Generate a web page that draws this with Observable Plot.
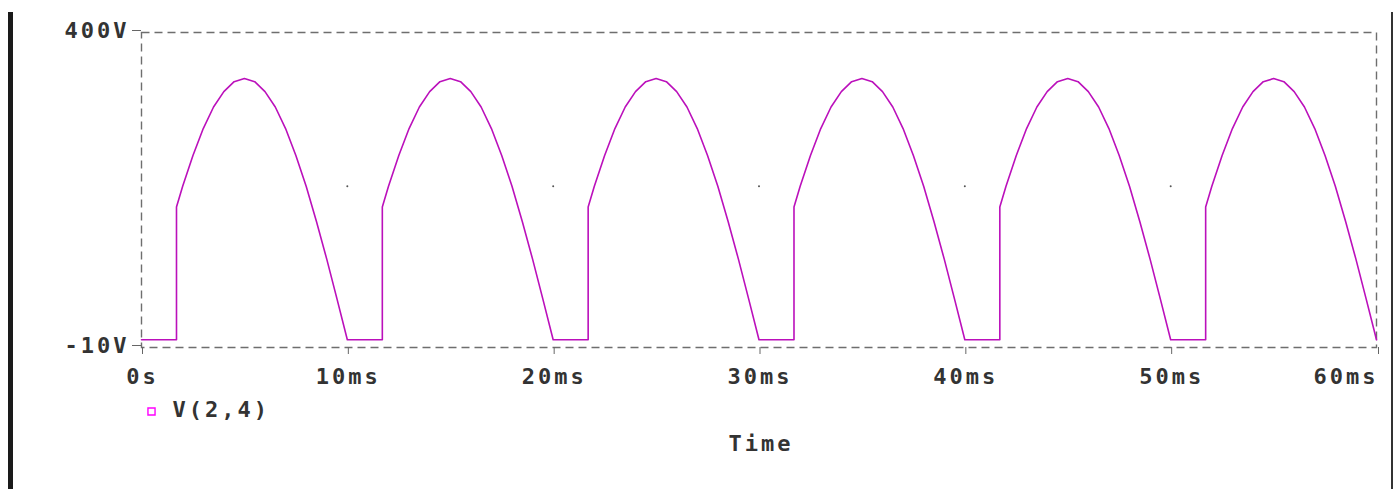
<!DOCTYPE html>
<html>
<head>
<meta charset="utf-8">
<script src="https://cdn.jsdelivr.net/npm/d3@7"></script>
<script src="https://cdn.jsdelivr.net/npm/@observablehq/plot@0.6"></script>
<style>
  html, body { margin: 0; padding: 0; background: #fff; }
  #wrap { position: relative; width: 1400px; height: 489px; overflow: hidden; background: #fff; }
  #barL { position: absolute; left: 8px; top: 12px; width: 5px; bottom: 0; background: #1a1a1a; }
  #barR { position: absolute; left: 1391px; top: 12px; width: 2px; bottom: 0; background: #333; }
  #chart { position: absolute; left: 0; top: 0; }
  #chart svg text { letter-spacing: 3px; }
</style>
</head>
<body>
<div id="wrap"><div id="chart"></div><div id="barL"></div><div id="barR"></div></div>
<script>
// Time axis (ms) and voltage axis (V)
const xTicks = [0, 10, 20, 30, 40, 50, 60];
const xTickLabels = ["0s", "10ms", "20ms", "30ms", "40ms", "50ms", "60ms"];
const yTicks = [-10, 400];
const yTickLabels = ["-10V", "400V"];

// start time of each half-cycle pulse (ms)
const cycleStarts = [0, 10, 20, 30, 40, 50];
// one pulse, time offset within the half-cycle (ms) and voltage (V)
const pulseTimes = [0, 1.7, 1.7, 2.0, 2.5, 3.0, 3.5, 4.0, 4.5, 5.0, 5.5, 6.0, 6.5, 7.0, 7.5, 8.0, 8.5, 9.0, 9.5, 10.0];
const pulseVolts = [0, 0, 173, 200, 240, 275, 303, 323, 336, 340, 336, 323, 303, 275, 240, 200, 154, 105, 53, 0];

// grid dots
const gridDotTimes = [10, 20, 30, 40, 50];
const gridDotVolt = 200;

const seriesName = "V(2,4)";
const xLabel = "Time";

const data = [];
for (const s of cycleStarts) {
  pulseTimes.forEach((t, i) => data.push({t: s + t, v: pulseVolts[i]}));
}
const dots = gridDotTimes.map(t => ({t, v: gridDotVolt}));

const font = "'DejaVu Sans Mono', monospace";
const fmtX = d => xTickLabels[xTicks.indexOf(d)];
const lastTick = xTicks[xTicks.length - 1];

const chart = Plot.plot({
  width: 1400,
  height: 489,
  marginLeft: 141,
  marginRight: 24,
  marginTop: 32,
  marginBottom: 142,
  style: {fontFamily: font, fontSize: "22px", fontWeight: "bold", color: "#333", background: "#fff"},
  x: {domain: [0, 60], axis: null},
  y: {domain: [-10, 400], axis: null},
  marks: [
    Plot.frame({stroke: "#6e6e6e", strokeDasharray: "8,5", strokeWidth: 1.4}),
    Plot.axisX({ticks: xTicks.slice(0, -1), tickFormat: fmtX, tickSize: 7, tickPadding: 14,
      stroke: "#666", fill: "#333", label: null, fontSize: 22, fontWeight: "bold", dx: 1}),
    Plot.axisX({ticks: [lastTick], tickFormat: fmtX, tickSize: 7, tickPadding: 14, textAnchor: "end",
      stroke: "#666", fill: "#333", label: null, fontSize: 22, fontWeight: "bold", dx: 2}),
    Plot.axisY({ticks: yTicks, tickFormat: d => yTickLabels[yTicks.indexOf(d)], tickSize: 9, tickPadding: 3,
      stroke: "#666", fill: "#333", label: null, fontSize: 22, fontWeight: "bold", dy: -2}),
    Plot.dot(dots, {x: "t", y: "v", r: 1, fill: "#555", stroke: null}),
    Plot.line(data, {x: "t", y: "v", stroke: "#bb10bb", strokeWidth: 1.6}),
    Plot.dot([seriesName], {frameAnchor: "bottom-left", dx: 10, dy: 64, symbol: "square", r: 4, stroke: "#ff00ff", strokeWidth: 1.4, fill: "#fff"}),
    Plot.text([seriesName], {frameAnchor: "bottom-left", text: d => d, dx: 31, dy: 62, textAnchor: "start", lineAnchor: "middle", fill: "#333", fontSize: 22, fontWeight: "bold"}),
    Plot.text([xLabel], {frameAnchor: "bottom", text: d => d, dx: 2, dy: 96, lineAnchor: "middle", fill: "#333", fontSize: 22, fontWeight: "bold"})
  ]
});
document.getElementById("chart").appendChild(chart);
</script>
</body>
</html>
